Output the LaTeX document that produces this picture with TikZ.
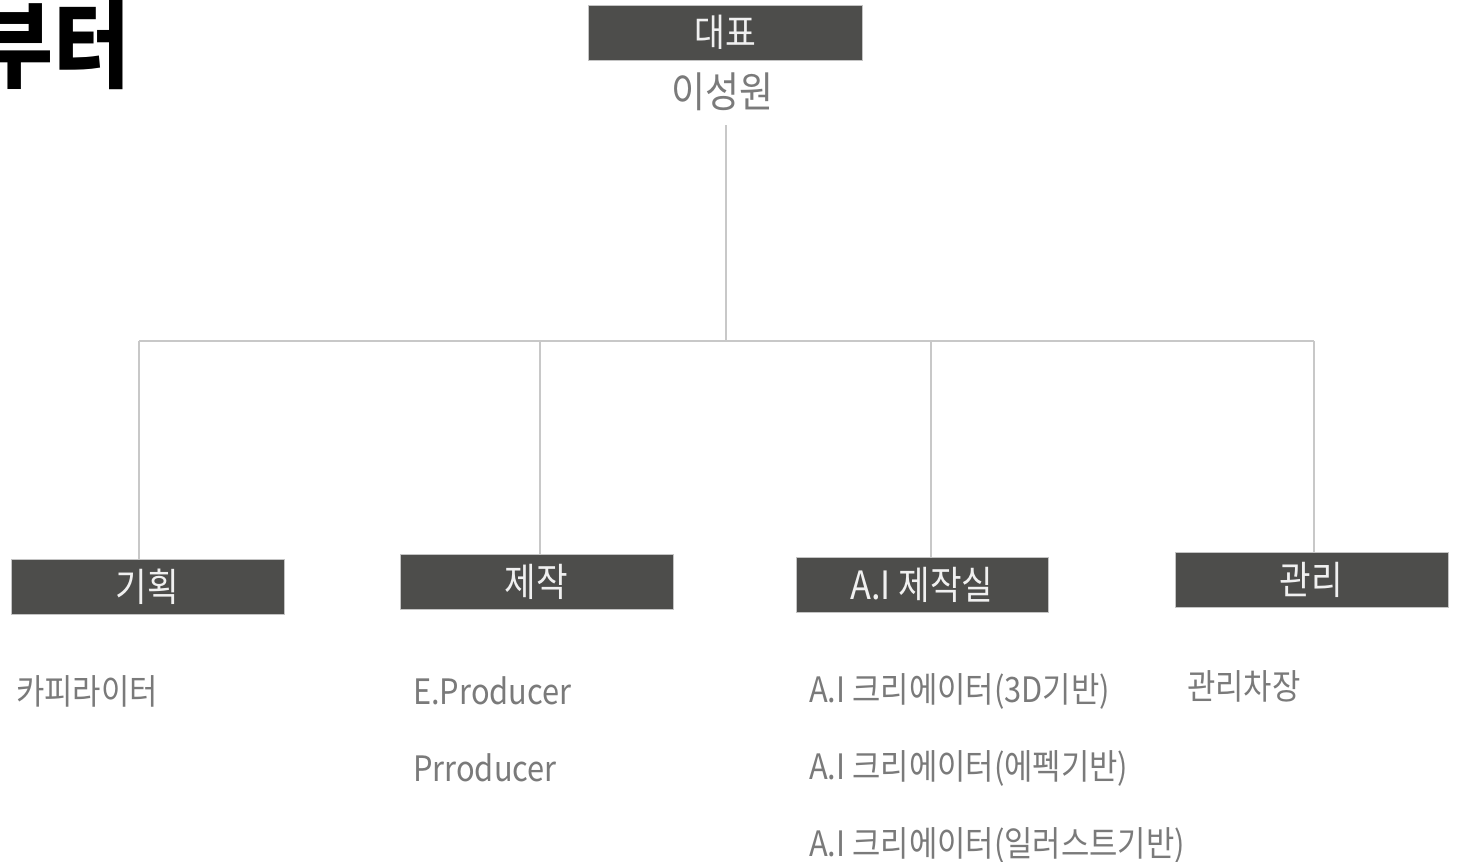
\documentclass[tikz,border=0pt]{standalone}
\usepackage{fontspec}
\setmainfont[FakeStretch=0.88]{Noto Sans CJK KR}
\usetikzlibrary{positioning}
\definecolor{boxgray}{HTML}{4D4D4B}
\definecolor{edgegray}{HTML}{C4C4C4}
\definecolor{linegray}{HTML}{C8C8C8}
\definecolor{labelgray}{HTML}{7A7A7A}

\begin{document}
\begin{tikzpicture}[%
    x=1pt,y=-1pt,%
    dept/.style={draw=edgegray, line width=1pt, fill=boxgray,%
      text=white!94!black, minimum width=273pt, minimum height=55pt,%
      inner sep=0pt, font=\fontsize{39}{39}\selectfont},%
    member/.style={anchor=west, inner sep=0pt, text=labelgray,%
      font=\fontsize{35}{35}\selectfont},%
    link/.style={draw=linegray, line width=1.5pt}%
  ]
  \useasboundingbox (0,0) rectangle (1460,862);%
  \clip (0,0) rectangle (1460,862);%

  % Titre coupe
  \node[anchor=east, inner sep=0pt, font=\fontsize{95}{95}\selectfont\bfseries] (title) at (131,45) {부터};%

  %
  % Direction
  %
  \node[dept, minimum width=274pt, font=\fontsize{38}{38}\selectfont] (ceo) at (725,32.5) {대표};%
  \node[inner sep=0pt, text=labelgray, font=\fontsize{42}{42}\selectfont] (ceoname) at (722,92) {이성원};%
  \coordinate (ceo drop) at (726,125);%
  \coordinate (hub) at (726,341);%

  %
  % Departements
  %
  \node[dept] (plan) at (147.5,586.5) {기획};%
  \node[dept] (prod) at (536.5,581.5) {제작};%
  \node[dept, minimum width=252pt] (ailab) at (922,584.5) {A.I 제작실};%
  \node[dept] (admin) at (1311.5,579.5) {관리};%

  % Liens
  \draw[link] (ceo drop) -- (hub);%
  \foreach \d/\s in {plan/-8.5,prod/3.5,ailab/9,admin/2.5} {%
      \coordinate (\d\space top) at ([xshift=\s pt]\d.north);%
      \draw[link] (\d\space top) -- (\d\space top |- hub);%
    }%
  \draw[link] (plan top |- hub) -- (admin top |- hub);%

  %
  % Membres
  %
  \node[member] (copy) at (16,691) {카피라이터};%
  \node[member] (eprod) at (413,691) {E.Producer};%
  \node[member] (prrod) at (413,768) {Prroducer};%
  \node[member] (ai3d) at (809,691) {A.I 크리에이터(3D기반)};%
  \node[member] (aiae) at (809,768) {A.I 크리에이터(에펙기반)};%
  \node[member] (aiill) at (809,845) {A.I 크리에이터(일러스트기반)};%
  \node[member] (manager) at (1187,686) {관리차장};%
\end{tikzpicture}
\end{document}
